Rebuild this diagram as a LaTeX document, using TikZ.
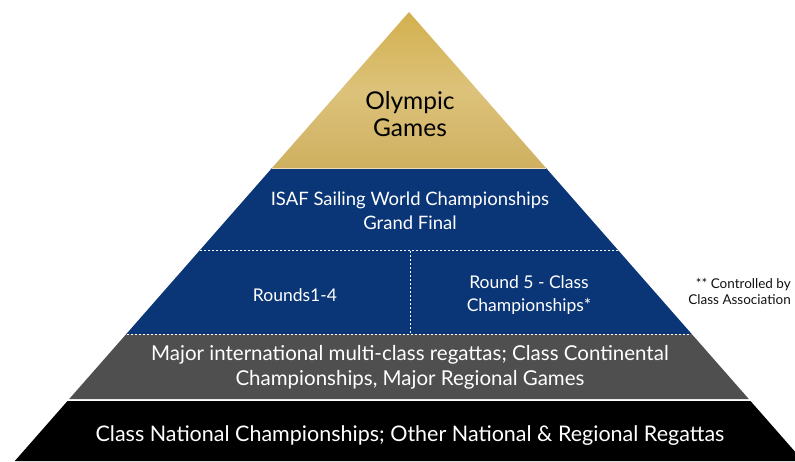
\documentclass[tikz,border=0pt]{standalone}
\usepackage{fontspec}
\setmainfont{Lato}
\definecolor{navy}{HTML}{0A3677}
\definecolor{slate}{HTML}{4F4F4F}
\definecolor{goldtop}{HTML}{D3B04E}
\definecolor{goldmid}{HTML}{DCC27A}
\definecolor{goldbot}{HTML}{CFB060}
\definecolor{notetext}{HTML}{111111}
\tikzset{
  whitetext/.style={text=white, align=center, inner sep=0pt},
  dotline/.style={draw=white, line width=1pt, dash pattern=on 2pt off 2pt},
}
\begin{document}
\begin{tikzpicture}[x=1pt,y=-1pt]
\useasboundingbox (0,0) rectangle (795,461);
\clip (0,0) rectangle (795,461);
% gold apex
\shade[top color=goldtop, bottom color=goldbot, middle color=goldmid]
  (409,12) -- (546,168) -- (272,168) -- cycle;
% blue band
\fill[navy] (272,168) -- (546,168) -- (691.7,334) -- (126.3,334) -- cycle;
\draw[goldtop!40!white, line width=0.8pt] (272,168) -- (546,168);
% gray band
\fill[slate] (126.3,334) -- (691.7,334) -- (748.8,399) -- (69.2,399) -- cycle;
% black band
\fill[black] (67.5,401) -- (750.5,401) -- (803.2,461) -- (14.8,461) -- cycle;
% dotted separators
\coordinate (d1l) at (200,250);
\coordinate (d1r) at (618,250);
\coordinate (d2l) at (127,334);
\coordinate (d2r) at (691,334);
\coordinate (vt) at (410,251);
\coordinate (vb) at (410,333);
\draw[dotline] (d1l) -- (d1r);
\draw[dotline] (d2l) -- (d2r);
\draw[dotline] (vt) -- (vb);
% texts
\node[align=center, inner sep=0pt, font=\fontsize{24.5}{27}\selectfont, text=black] (olym) at (410,114) {Olympic\\Games};
\node[whitetext, font=\fontsize{18.5}{24}\selectfont] (isaf) at (410,211) {ISAF Sailing World Championships\\Grand Final};
\node[whitetext, font=\fontsize{17.5}{23}\selectfont] (r14) at (295,295) {Rounds1-4};
\node[whitetext, font=\fontsize{17.5}{23}\selectfont] (r5) at (529,295) {Round 5 - Class\\Championships*};
\node[whitetext, font=\fontsize{20.5}{25}\selectfont] (major) at (410,367) {Major international multi-class regattas; Class Continental\\Championships, Major Regional Games};
\node[whitetext, font=\fontsize{21.5}{24}\selectfont] (natl) at (410,436) {Class National Championships; Other National \& Regional Regattas};
\node[align=right, inner sep=0pt, text=notetext, font=\fontsize{13.5}{16}\selectfont, anchor=east] (note) at (791,291) {** Controlled by\\Class Association};
\end{tikzpicture}
\end{document}
